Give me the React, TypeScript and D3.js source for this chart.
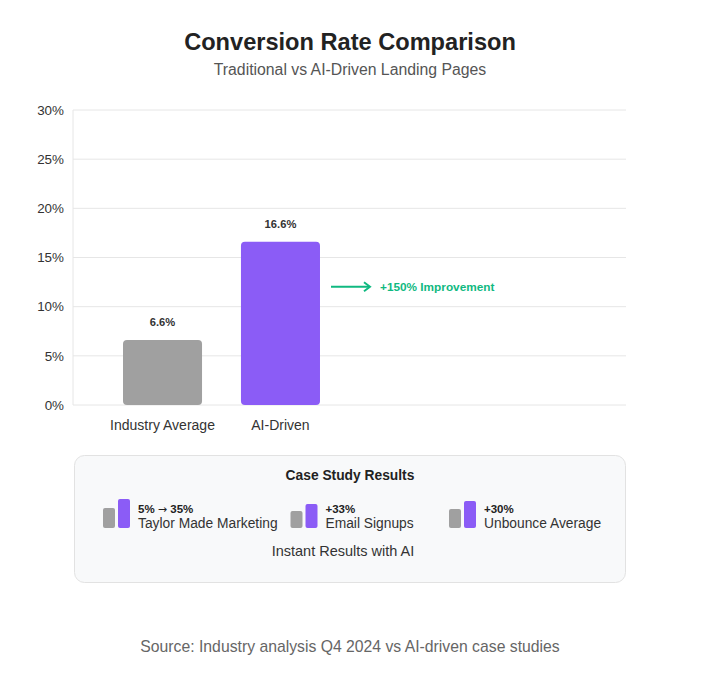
import React from "react";
import * as d3 from "d3";

const categories = ["Industry Average", "AI-Driven"];
const rates = [6.6, 16.6];
const barColors = ["#a0a0a0", "#8b5cf6"];
const yTicks = [0, 5, 10, 15, 20, 25, 30];
const improvementLabel = "+150% Improvement";

const caseTitles = ["5% → 35%", "+33%", "+30%"];
const caseNames = ["Taylor Made Marketing", "Email Signups", "Unbounce Average"];
const caseBefore = [20, 17, 19];
const caseAfter = [29, 24, 27];

const W = 713;
const H = 682;
const FONT = "'Liberation Sans', Arial, Helvetica, sans-serif";

function renderTitle(t: string) {
  const parts = t.split("→");
  if (parts.length === 1) return t;
  return (
    <>
      {parts[0]}
      <tspan fontFamily="'DejaVu Sans', sans-serif" fontWeight="normal" fontSize={11}>→</tspan>
      {parts[1]}
    </>
  );
}

export default function App() {
  const y = d3.scaleLinear().domain([0, 30]).range([405, 110]);
  const x = d3
    .scaleBand<string>()
    .domain(categories)
    .range([73, 370])
    .paddingInner(0.33)
    .paddingOuter(0.424);
  const left = 73;
  const right = 626;

  const itemX = d3.scaleOrdinal<number, number>().domain([0, 1, 2]).range([103, 290.5, 449]);
  const iconBase = 528;

  const arrowY = y(rates[1]) + 45;

  return (
    <svg
      width={W}
      height={H}
      style={{ position: "absolute", left: 0, top: 0, background: "#fff" }}
      fontFamily={FONT}
    >
      <text x={350} y={50} textAnchor="middle" fontSize={23.6} fontWeight="bold" fill="#222">
        Conversion Rate Comparison
      </text>
      <text x={350} y={75} textAnchor="middle" fontSize={15.8} fill="#555">
        Traditional vs AI-Driven Landing Pages
      </text>

      {yTicks.map((t) => (
        <g key={t}>
          <line x1={left} x2={right} y1={y(t)} y2={y(t)} stroke="#e6e6e6" strokeWidth={1} />
          <text x={64} y={y(t)} dy="0.35em" textAnchor="end" fontSize={13.4} fill="#333">
            {t}%
          </text>
        </g>
      ))}
      <line x1={left} x2={left} y1={y(30)} y2={y(0)} stroke="#e6e6e6" strokeWidth={1} />

      {categories.map((c, i) => (
        <g key={c}>
          <rect
            x={x(c)}
            y={y(rates[i])}
            width={x.bandwidth()}
            height={y(0) - y(rates[i])}
            rx={4}
            fill={barColors[i]}
          />
          <text
            x={(x(c) as number) + x.bandwidth() / 2}
            y={y(rates[i]) - 18}
            dy="0.35em"
            textAnchor="middle"
            fontSize={11.2}
            fontWeight="bold"
            fill="#333"
          >
            {rates[i].toFixed(1)}%
          </text>
          <text
            x={(x(c) as number) + x.bandwidth() / 2}
            y={y(0) + 20}
            dy="0.35em"
            textAnchor="middle"
            fontSize={14}
            fill="#333"
          >
            {c}
          </text>
        </g>
      ))}

      <g stroke="#10b981" strokeWidth={2} fill="none">
        <line x1={331} x2={369} y1={arrowY} y2={arrowY} />
        <polyline points={`${364},${arrowY - 4.5} ${370},${arrowY} ${364},${arrowY + 4.5}`} />
      </g>
      <text x={380} y={arrowY} dy="0.35em" fontSize={11.8} fontWeight="bold" fill="#10b981">
        {improvementLabel}
      </text>

      <rect x={74.5} y={455.5} width={551} height={127} rx={10} fill="#f8f9fa" stroke="#e2e2e2" />
      <text x={350} y={480} textAnchor="middle" fontSize={13.8} fontWeight="bold" fill="#222">
        Case Study Results
      </text>
      {caseNames.map((n, i) => {
        const x0 = itemX(i);
        return (
          <g key={n}>
            <rect x={x0} y={iconBase - caseBefore[i]} width={12} height={caseBefore[i]} rx={2} fill="#a0a0a0" />
            <rect x={x0 + 15} y={iconBase - caseAfter[i]} width={12} height={caseAfter[i]} rx={2} fill="#8b5cf6" />
            <text x={x0 + 35} y={513} fontSize={11.5} fontWeight="600" fill="#222">
              {renderTitle(caseTitles[i])}
            </text>
            <text x={x0 + 35} y={527.5} fontSize={13.8} fill="#333">
              {n}
            </text>
          </g>
        );
      })}
      <text x={343} y={556} textAnchor="middle" fontSize={14.5} fill="#333">
        Instant Results with AI
      </text>

      <text x={350} y={652} textAnchor="middle" fontSize={15.75} fill="#666">
        Source: Industry analysis Q4 2024 vs AI-driven case studies
      </text>
    </svg>
  );
}
